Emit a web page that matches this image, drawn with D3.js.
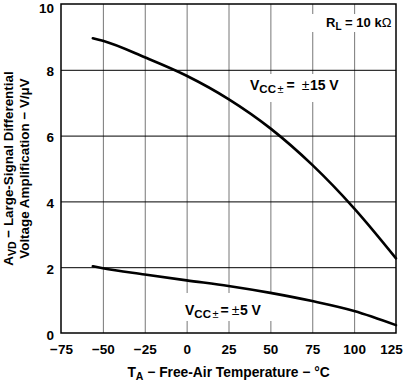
<!DOCTYPE html>
<html><head><meta charset="utf-8">
<script src="https://cdn.jsdelivr.net/npm/d3@7"></script>
<style>
html,body{margin:0;padding:0;background:#fff;}
svg{display:block;font-family:"Liberation Sans",Arial,sans-serif;font-weight:bold;}
</style></head>
<body>
<svg id="chart" width="404" height="382"></svg>
<script>
// Data
const temps   = [-56, -50, -25, 0, 25, 50, 75, 100, 125];
const avd15   = [8.96, 8.88, 8.38, 7.82, 7.11, 6.22, 5.11, 3.79, 2.27];
const avd5    = [2.03, 1.97, 1.78, 1.60, 1.43, 1.22, 0.97, 0.67, 0.24];
const xTicks  = [-75, -50, -25, 0, 25, 50, 75, 100, 125];
const yTicks  = [0, 2, 4, 6, 8, 10];

const svg = d3.select("#chart");
const L = 61, R = 396, T = 4, B = 333;
const x = d3.scaleLinear().domain([-75, 125]).range([L, R]);
const y = d3.scaleLinear().domain([0, 10]).range([B, T]);

// vertical grid (gray)
svg.append("g").attr("transform", `translate(0,${B})`)
  .call(d3.axisBottom(x).tickValues(xTicks.slice(1, -1)).tickSize(-(B - T)).tickFormat(""))
  .call(g => g.select(".domain").remove())
  .call(g => g.selectAll("line").attr("stroke", "#777").attr("stroke-width", 1));
// horizontal grid (black)
svg.append("g").attr("transform", `translate(${L},0)`)
  .call(d3.axisLeft(y).tickValues(yTicks.slice(1, -1)).tickSize(-(R - L)).tickFormat(""))
  .call(g => g.select(".domain").remove())
  .call(g => g.selectAll("line").attr("stroke", "#000").attr("stroke-width", 1));

// label backgrounds (mask gridlines)
const bgs = [[305, 14, 90, 18], [240, 74, 106, 28], [175, 293, 100, 28]];
svg.append("g").selectAll("rect").data(bgs).join("rect")
  .attr("x", d => d[0]).attr("y", d => d[1]).attr("width", d => d[2]).attr("height", d => d[3])
  .attr("fill", "#fff");

// curves
const line = d3.line().curve(d3.curveMonotoneX).x(d => x(d[0])).y(d => y(d[1]));
[avd15, avd5].forEach(s => {
  svg.append("path").datum(temps.map((t, i) => [t, s[i]]))
    .attr("d", line).attr("fill", "none").attr("stroke", "#000")
    .attr("stroke-width", 2.6).attr("stroke-linecap", "round");
});

// frame
svg.append("rect").attr("x", L).attr("y", T).attr("width", R - L).attr("height", B - T)
  .attr("fill", "none").attr("stroke", "#000").attr("stroke-width", 1.5);

// tick labels
const xa = svg.append("g").attr("transform", `translate(0,${B})`)
  .call(d3.axisBottom(x).tickValues(xTicks).tickSize(0).tickPadding(11));
xa.select(".domain").remove();
xa.selectAll("text").attr("font-size", 13.5).attr("font-weight", "bold")
  .attr("font-family", "Liberation Sans, Arial, sans-serif").attr("fill", "#000")
  .attr("dx", d => d === 125 ? -5 : 0);
const ya = svg.append("g").attr("transform", `translate(${L},0)`)
  .call(d3.axisLeft(y).tickValues(yTicks).tickSize(0).tickPadding(7));
ya.select(".domain").remove();
ya.selectAll("text").attr("font-size", 13.5).attr("font-weight", "bold")
  .attr("font-family", "Liberation Sans, Arial, sans-serif").attr("fill", "#000")
  .attr("dy", d => d === 10 ? "0.6em" : "0.45em");

// annotation helper: parts with optional size, weight, dy, dx
function label(px, py, size, parts, anchor) {
  const t = svg.append("text").attr("x", px).attr("y", py).attr("font-size", size)
    .attr("text-anchor", anchor || "start");
  parts.forEach(p => {
    const ts = t.append("tspan").text(p.t);
    if (p.s) ts.attr("font-size", p.s);
    if (p.dy) ts.attr("dy", p.dy);
    if (p.dx) ts.attr("dx", p.dx);
    if (p.w) ts.attr("font-weight", p.w);
  });
  return t;
}
label(326, 27, 13, [{t: "R"}, {t: "L", s: 10, dy: 3}, {t: " = 10 k", dy: -3}, {t: "Ω", w: "normal"}]);
label(250, 90, 14, [{t: "V"}, {t: "CC", s: 11.5, dy: 3}, {t: "±", s: 11, w: "normal", dx: 1.5},
  {t: "=", dy: -3, dx: 3}, {t: "±", w: "normal", dx: 7}, {t: "15 V", dx: 0.5}]);
label(185, 315, 14, [{t: "V"}, {t: "CC", s: 11.5, dy: 3}, {t: "±", s: 11, w: "normal", dx: 1.5},
  {t: "=", dy: -3, dx: 2}, {t: "±", w: "normal", dx: 3}, {t: "5 V", dx: 0.5}]);

// x axis title
label(228.5, 377, 13.8, [{t: "T"}, {t: "A", s: 10.5, dy: 3}, {t: " − Free-Air Temperature − °C", dy: -3}], "middle");

// y axis title
const yt = svg.append("g").attr("transform", `translate(13,168.5) rotate(-90)`);
const t1 = yt.append("text").attr("text-anchor", "middle").attr("font-size", 13.4);
t1.append("tspan").text("A");
t1.append("tspan").text("VD").attr("font-size", 10.5).attr("dy", 3);
t1.append("tspan").text(" − Large-Signal Differential").attr("dy", -3);
yt.append("text").attr("text-anchor", "middle").attr("font-size", 13.4).attr("y", 15.5)
  .text("Voltage Amplification − V/μV");
</script>
</body></html>
